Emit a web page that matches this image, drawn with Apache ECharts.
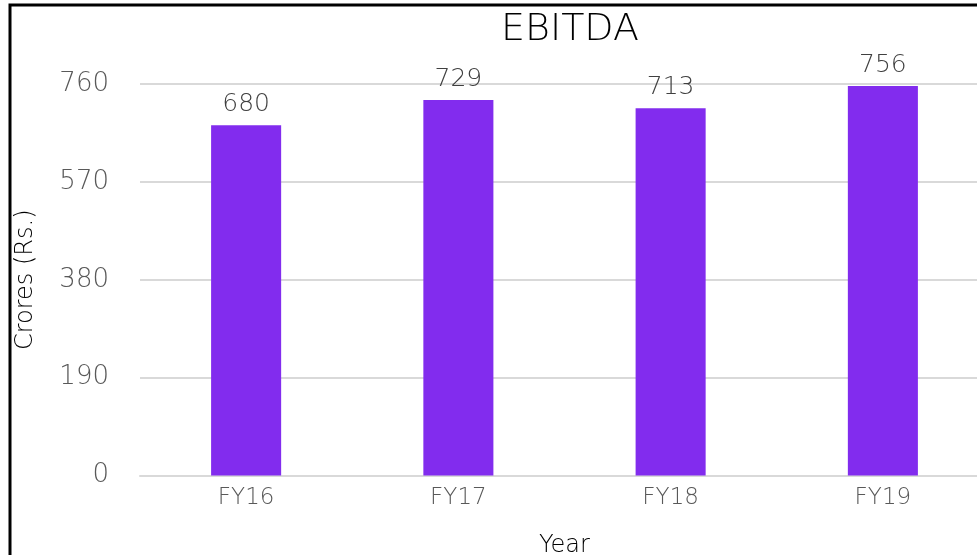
<!DOCTYPE html>
<html>
<head>
<meta charset="utf-8">
<script src="https://cdn.jsdelivr.net/npm/echarts@6/dist/echarts.min.js"></script>
<style>
  html, body { margin: 0; padding: 0; background: #fff; }
  #chart { width: 977px; height: 555px; }
</style>
</head>
<body>
<div id="chart"></div>
<script>
const years = ['FY16', 'FY17', 'FY18', 'FY19']
const ebitda = [680, 729, 713, 756]
const yTicks = [0, 190, 380, 570, 760]

const font = 'DejaVu Sans'
const thin = 200
const myChart = echarts.init(document.getElementById('chart'))
const option = {
  animation: false,
  title: {
    text: 'EBITDA',
    left: 565,
    top: 6,
    textAlign: 'center',
    textStyle: { fontFamily: font, fontSize: 38, fontWeight: thin, color: '#000' }
  },
  grid: { left: 140, right: -12, top: 84, bottom: 79.5, outerBoundsMode: 'none' },
  graphic: [{
    type: 'rect',
    shape: { x: 10, y: 5, width: 1100, height: 700 },
    style: { fill: 'none', stroke: '#000', lineWidth: 3 },
    silent: true
  }],
  xAxis: {
    type: 'category',
    data: years,
    name: 'Year',
    nameLocation: 'middle',
    nameGap: 58,
    nameTextStyle: { fontFamily: font, fontSize: 24, fontWeight: thin, color: '#000' },
    axisLine: { lineStyle: { color: '#d9d9d9', width: 2 } },
    axisTick: { show: false },
    axisLabel: { fontFamily: font, fontSize: 23, fontWeight: thin, color: '#595959', margin: 11 }
  },
  yAxis: {
    type: 'value',
    min: yTicks[0],
    max: yTicks[yTicks.length - 1],
    interval: yTicks[1] - yTicks[0],
    name: 'Crores (Rs.)',
    nameLocation: 'middle',
    nameGap: 102,
    nameTextStyle: { fontFamily: font, fontSize: 24, fontWeight: thin, color: '#000' },
    axisLine: { show: false },
    axisTick: { show: false },
    axisLabel: { fontFamily: font, fontSize: 26, fontWeight: thin, color: '#595959', margin: 31 },
    splitLine: { lineStyle: { color: '#d9d9d9', width: 2 } }
  },
  series: [{
    type: 'bar',
    data: ebitda,
    barWidth: '33%',
    itemStyle: { color: '#822cee' },
    label: {
      show: true,
      position: 'top',
      distance: 8,
      fontFamily: font,
      fontSize: 25,
      fontWeight: thin,
      color: '#404040'
    }
  }]
}
option && myChart.setOption(option)
</script>
</body>
</html>
